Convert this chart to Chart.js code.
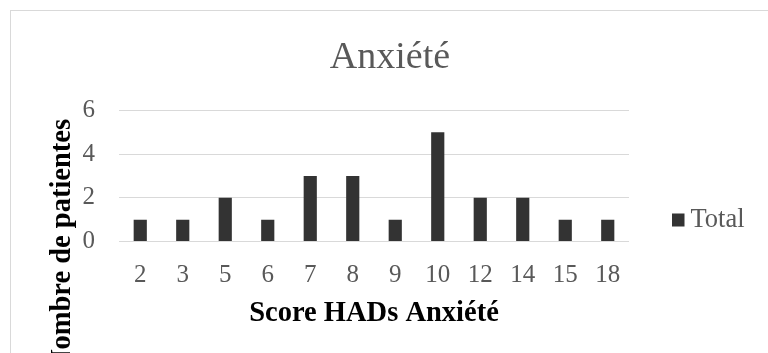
<!DOCTYPE html>
<html>
<head>
<meta charset="utf-8">
<script src="https://cdn.jsdelivr.net/npm/chart.js@4"></script>
<style>
    html, body { margin: 0; padding: 0; background: #fff; overflow: hidden; }
    #frame {
        position: absolute; left: 10px; top: 10px;
        width: 800px; height: 400px;
        border: 1px solid #d9d9d9;
    }
    #myChart { position: absolute; left: 0; top: 0; }
</style>
</head>
<body>
<div id="frame"></div>
<canvas id="myChart" width="768" height="353"></canvas>
<script>
const scores = ["2", "3", "5", "6", "7", "8", "9", "10", "12", "14", "15", "18"];
const patientes = [1, 1, 2, 1, 3, 3, 1, 5, 2, 2, 1, 1];
const yMax = 6;
const yStep = 2;

const serif = "'Liberation Serif', 'DejaVu Serif', serif";
const grey = "#595959";

// chart title, centred on the whole frame rather than the plot
const frameTitle = {
    id: "frameTitle",
    afterDraw(chart) {
        const c = chart.ctx;
        c.save();
        c.fillStyle = grey;
        c.font = "38px " + serif;
        c.textAlign = "center";
        c.textBaseline = "alphabetic";
        c.fillText(chart.options.plugins.frameTitle.text, 390, 67.5);
        c.restore();
    }
};

// Excel-style legend entry on the right
const sideLegend = {
    id: "sideLegend",
    afterDraw(chart) {
        const c = chart.ctx;
        const ds = chart.data.datasets[0];
        c.save();
        c.fillStyle = ds.backgroundColor;
        c.fillRect(672, 213.5, 12.5, 13);
        c.fillStyle = grey;
        c.font = "26.5px " + serif;
        c.textBaseline = "alphabetic";
        c.textAlign = "left";
        c.fillText(ds.label, 690.5, 227);
        c.restore();
    }
};

// vertical axis title, bold and centred lower than the plot
const yTitle = {
    id: "yTitle",
    afterDraw(chart) {
        const c = chart.ctx;
        c.save();
        c.translate(70, 244.5);
        c.rotate(-Math.PI / 2);
        c.fillStyle = "#000";
        c.font = "bold 28.5px " + serif;
        c.textAlign = "center";
        c.textBaseline = "alphabetic";
        c.fillText("Nombre de patientes", 0, 0);
        c.restore();
    }
};

const ctx = document.getElementById("myChart").getContext("2d");
new Chart(ctx, {
    type: "bar",
    data: {
        labels: scores,
        datasets: [{
            label: "Total",
            data: patientes,
            backgroundColor: "#333333",
            barPercentage: 0.31,
            categoryPercentage: 1
        }]
    },
    options: {
        responsive: false,
        animation: false,
        devicePixelRatio: 1,
        layout: { padding: { left: 0, right: 139, top: 110.3, bottom: 0 } },
        plugins: {
            legend: { display: false },
            tooltip: { enabled: false },
            title: { display: false },
            frameTitle: { text: "Anxiété" }
        },
        scales: {
            x: {
                grid: { display: false, drawTicks: false },
                border: { display: false },
                ticks: {
                    color: grey,
                    font: { family: serif, size: 25 },
                    padding: 18.5,
                    maxRotation: 0
                },
                title: {
                    display: true,
                    text: "Score HADs Anxiété",
                    color: "#000",
                    font: { family: serif, size: 28.5, weight: "bold", lineHeight: 1.2 },
                    padding: { top: 0, bottom: 22.5 }
                },
                afterFit(scale) { scale.height = 111.5; }
            },
            y: {
                min: 0,
                max: yMax,
                grid: { color: "#d9d9d9", lineWidth: 1, drawTicks: false },
                border: { display: false },
                ticks: {
                    stepSize: yStep,
                    color: grey,
                    font: { family: serif, size: 25 },
                    padding: 24
                },
                afterFit(scale) { scale.width = 119; }
            }
        }
    },
    plugins: [frameTitle, sideLegend, yTitle]
});
</script>
</body>
</html>
